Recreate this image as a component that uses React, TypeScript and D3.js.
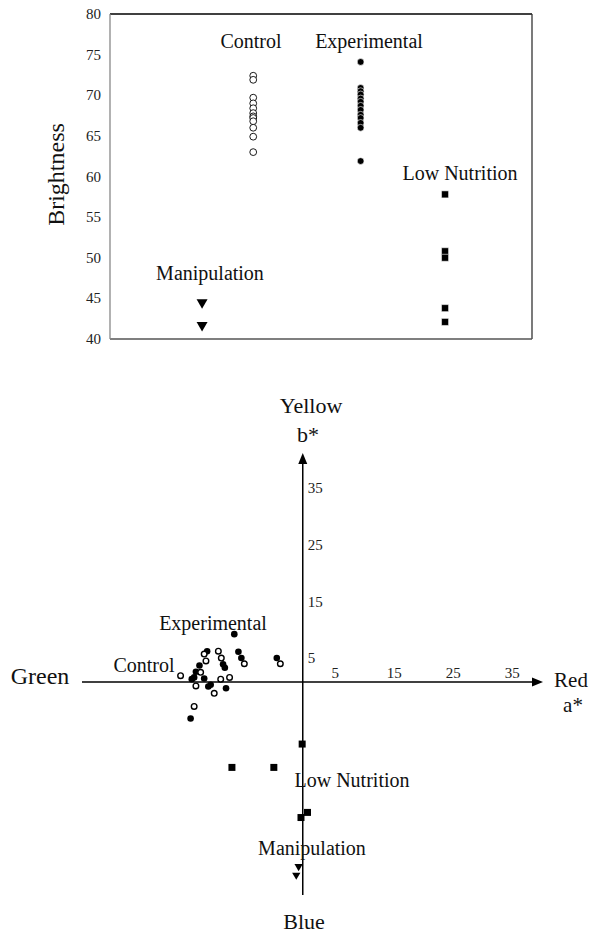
import { useEffect, useRef } from 'react';
import * as d3 from 'd3';

// top panel: brightness by group
const brightGroups = ['Manipulation', 'Control', 'Experimental', 'Low Nutrition'];
const brightGroupX = [1.8, 2.8, 4.9, 6.55];
const brightManipulation = [44.5, 41.7];
const brightControl = [72.4, 71.9, 69.7, 69.0, 68.4, 67.8, 67.4, 67.2, 66.8, 66.0, 64.9, 63.0];
const brightExperimental = [74.1, 70.9, 70.5, 70.1, 69.6, 69.2, 68.7, 68.2, 67.6, 67.2, 66.6, 66.0, 61.9];
const brightLowNutrition = [57.8, 50.8, 50.0, 43.8, 42.1];
const brightTicks = [40, 45, 50, 55, 60, 65, 70, 75, 80];

// bottom panel: a* / b* colour space
const controlA = [-16.7, -14.3, -16.4, -13.8, -9.9, -3.8, -20.7, -17.3, -13.9, -12.4, -18.1, -15.0, -18.4];
const controlB = [4.9, 5.4, 3.7, 4.2, 3.2, 3.2, 1.1, 1.7, 0.5, 0.8, -0.7, -2.0, -4.3];
const experimentalA = [-11.6, -16.2, -10.9, -10.4, -4.4, -13.5, -13.2, -17.5, -18.1, -18.4, -18.8, -16.7, -16.0, -15.6, -13.0, -19.0];
const experimentalB = [8.4, 5.4, 5.3, 4.2, 4.2, 3.1, 2.5, 2.9, 1.8, 0.8, 0.5, 0.6, -0.8, -0.5, -1.1, -6.4];
const lowNutritionA = [-0.1, -12.0, -4.9, 0.8, -0.3];
const lowNutritionB = [-10.9, -15.0, -15.0, -22.9, -23.8];
const manipulationA = [-0.7, -1.1];
const manipulationB = [-32.4, -33.9];
const aTicks = [5, 15, 25, 35];
const bTicks = [5, 15, 25, 35];

const FONT = '"Liberation Serif", "DejaVu Serif", serif';

function App() {
    const svgRef = useRef(null);

    useEffect(() => {
        const svg = d3.select(svgRef.current);
        svg.selectAll('*').remove();
        drawBrightness(svg);
        drawColourSpace(svg);
    }, []);

    function drawBrightness(svg: any) {
        const x = d3.scaleLinear().domain([0, 8.25]).range([110, 532]);
        const y = d3.scaleLinear().domain([40, 80]).range([339, 14]);
        const g = svg.append('g');

        // frame
        g.append('line').attr('x1', 110).attr('x2', 532).attr('y1', y(80)).attr('y2', y(80)).attr('stroke', '#000').attr('stroke-width', 1.3);
        g.append('line').attr('x1', 532).attr('x2', 532).attr('y1', y(80)).attr('y2', y(40)).attr('stroke', '#333').attr('stroke-width', 1.3);
        g.append('line').attr('x1', 110).attr('x2', 532).attr('y1', y(40)).attr('y2', y(40)).attr('stroke', '#555').attr('stroke-width', 1.3);
        g.append('line').attr('x1', 110).attr('x2', 110).attr('y1', y(80)).attr('y2', y(40)).attr('stroke', '#888').attr('stroke-width', 1.3);

        g.selectAll('.ytick')
            .data(brightTicks)
            .enter()
            .append('text')
            .attr('x', 101)
            .attr('y', (d: number) => y(d) + 5)
            .attr('text-anchor', 'end')
            .attr('font-family', FONT)
            .attr('font-size', 15)
            .attr('fill', '#222')
            .text((d: number) => d);

        g.append('text')
            .attr('transform', `translate(64,${y(60) - 2}) rotate(-90)`)
            .attr('text-anchor', 'middle')
            .attr('font-family', FONT)
            .attr('font-size', 24)
            .attr('fill', '#111')
            .text('Brightness');

        const gx = (name: string) => x(brightGroupX[brightGroups.indexOf(name)]);

        g.selectAll('.ctl')
            .data(brightControl)
            .enter()
            .append('circle')
            .attr('cx', gx('Control'))
            .attr('cy', (d: number) => y(d))
            .attr('r', 3.4)
            .attr('fill', '#fff')
            .attr('stroke', '#000')
            .attr('stroke-width', 0.9);

        g.selectAll('.exp')
            .data(brightExperimental)
            .enter()
            .append('circle')
            .attr('cx', gx('Experimental'))
            .attr('cy', (d: number) => y(d))
            .attr('r', 3.4)
            .attr('fill', '#000')
            .attr('stroke', '#fff')
            .attr('stroke-width', 0.6);

        g.selectAll('.low')
            .data(brightLowNutrition)
            .enter()
            .append('path')
            .attr('d', d3.symbol(d3.symbolSquare, 49)())
            .attr('transform', (d: number) => `translate(${gx('Low Nutrition')},${y(d)})`)
            .attr('fill', '#000')
            .attr('stroke', '#fff')
            .attr('stroke-width', 0.5);

        g.selectAll('.man')
            .data(brightManipulation)
            .enter()
            .append('path')
            .attr('d', d3.symbol(d3.symbolTriangle, 52)())
            .attr('transform', (d: number) => `translate(${gx('Manipulation')},${y(d)}) rotate(180)`)
            .attr('fill', '#000');

        const labels = [
            { t: 'Control', x: 251, y: 48 },
            { t: 'Experimental', x: 369, y: 48 },
            { t: 'Low Nutrition', x: 460, y: 180 },
            { t: 'Manipulation', x: 210, y: 280 },
        ];
        g.selectAll('.glab')
            .data(labels)
            .enter()
            .append('text')
            .attr('x', (d: any) => d.x)
            .attr('y', (d: any) => d.y)
            .attr('text-anchor', 'middle')
            .attr('font-family', FONT)
            .attr('font-size', 20)
            .attr('fill', '#111')
            .text((d: any) => d.t);
    }

    function drawColourSpace(svg: any) {
        const x = d3.scaleLinear().domain([-37.4, 40.7]).range([82, 543]);
        const y = d3.scaleLinear().domain([-37.4, 40.2]).range([895, 453]);
        const g = svg.append('g');
        const x0 = x(0);
        const y0 = y(0);

        // axes with arrow heads
        g.append('line').attr('x1', x(-37.4)).attr('x2', x(40.7) - 8).attr('y1', y0).attr('y2', y0).attr('stroke', '#000').attr('stroke-width', 1.5);
        g.append('line').attr('x1', x0).attr('x2', x0).attr('y1', y(-37.4)).attr('y2', y(40.2) + 8).attr('stroke', '#000').attr('stroke-width', 1.5);
        const tipX = x(40.7);
        const tipY = y(40.2);
        g.append('path').attr('d', `M${tipX},${y0} L${tipX - 11},${y0 - 4.5} L${tipX - 11},${y0 + 4.5} Z`).attr('fill', '#000');
        g.append('path').attr('d', `M${x0},${tipY} L${x0 - 4.5},${tipY + 11} L${x0 + 4.5},${tipY + 11} Z`).attr('fill', '#000');

        g.selectAll('.atick')
            .data(aTicks)
            .enter()
            .append('text')
            .attr('x', (d: number) => x(d) + 3)
            .attr('y', y0 - 4)
            .attr('text-anchor', 'middle')
            .attr('font-family', FONT)
            .attr('font-size', 15)
            .attr('fill', '#222')
            .text((d: number) => d);

        g.selectAll('.btick')
            .data(bTicks)
            .enter()
            .append('text')
            .attr('x', x0 + 5)
            .attr('y', (d: number) => y(d) + 10)
            .attr('font-family', FONT)
            .attr('font-size', 15)
            .attr('fill', '#222')
            .text((d: number) => d);

        const axisLabels = [
            { t: 'Yellow', x: 311, y: 413, s: 22 },
            { t: 'b*', x: 308, y: 442, s: 22 },
            { t: 'Red', x: 571, y: 687, s: 21 },
            { t: 'a*', x: 573, y: 712, s: 21 },
            { t: 'Green', x: 40, y: 684, s: 24 },
            { t: 'Blue', x: 304, y: 929, s: 22 },
        ];
        g.selectAll('.alab')
            .data(axisLabels)
            .enter()
            .append('text')
            .attr('x', (d: any) => d.x)
            .attr('y', (d: any) => d.y)
            .attr('text-anchor', 'middle')
            .attr('font-family', FONT)
            .attr('font-size', (d: any) => d.s)
            .attr('fill', '#111')
            .text((d: any) => d.t);

        const expPts = experimentalA.map((a, i) => [a, experimentalB[i]]);
        const ctlPts = controlA.map((a, i) => [a, controlB[i]]);
        const lowPts = lowNutritionA.map((a, i) => [a, lowNutritionB[i]]);
        const manPts = manipulationA.map((a, i) => [a, manipulationB[i]]);

        g.selectAll('.cexp')
            .data(expPts)
            .enter()
            .append('circle')
            .attr('cx', (d: number[]) => x(d[0]))
            .attr('cy', (d: number[]) => y(d[1]))
            .attr('r', 3.3)
            .attr('fill', '#000');

        g.selectAll('.cctl')
            .data(ctlPts)
            .enter()
            .append('circle')
            .attr('cx', (d: number[]) => x(d[0]))
            .attr('cy', (d: number[]) => y(d[1]))
            .attr('r', 2.8)
            .attr('fill', '#fff')
            .attr('stroke', '#000')
            .attr('stroke-width', 1.4);

        g.selectAll('.clow')
            .data(lowPts)
            .enter()
            .append('path')
            .attr('d', d3.symbol(d3.symbolSquare, 49)())
            .attr('transform', (d: number[]) => `translate(${x(d[0])},${y(d[1])})`)
            .attr('fill', '#000');

        g.selectAll('.cman')
            .data(manPts)
            .enter()
            .append('path')
            .attr('d', d3.symbol(d3.symbolTriangle, 30)())
            .attr('transform', (d: number[]) => `translate(${x(d[0])},${y(d[1])}) rotate(180)`)
            .attr('fill', '#000');

        const groupLabels = [
            { t: 'Experimental', x: 213, y: 630 },
            { t: 'Control', x: 144, y: 672 },
            { t: 'Low Nutrition', x: 352, y: 787 },
            { t: 'Manipulation', x: 312, y: 855 },
        ];
        g.selectAll('.glab2')
            .data(groupLabels)
            .enter()
            .append('text')
            .attr('x', (d: any) => d.x)
            .attr('y', (d: any) => d.y)
            .attr('text-anchor', 'middle')
            .attr('font-family', FONT)
            .attr('font-size', 20)
            .attr('fill', '#111')
            .text((d: any) => d.t);
    }

    return (
        <svg
            ref={svgRef}
            width="591"
            height="934"
            style={{ position: 'absolute', left: 0, top: 0, background: '#fff' }}
        ></svg>
    );
}

export default App;
